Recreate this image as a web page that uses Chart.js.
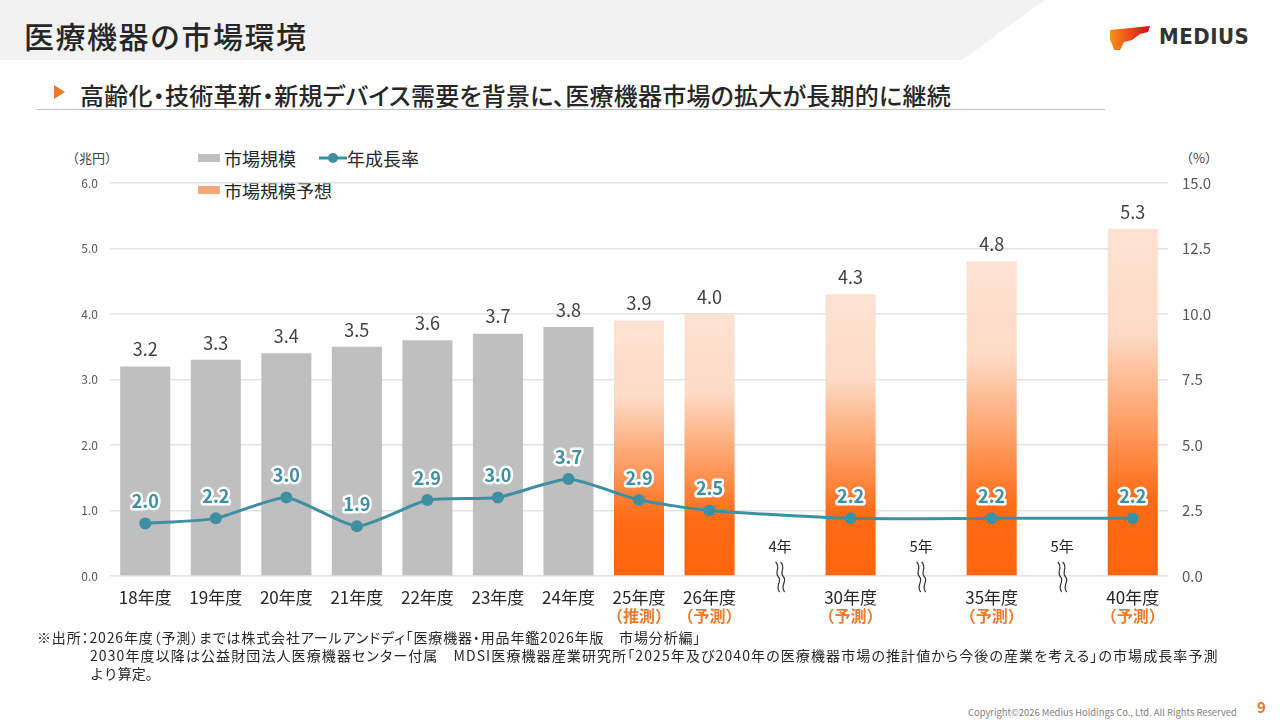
<!DOCTYPE html>
<html lang="ja">
<head>
<meta charset="utf-8">
<script src="https://cdn.jsdelivr.net/npm/chart.js@4"></script>
<style>
	body{margin:0;width:1280px;height:720px;position:relative;overflow:hidden;background:#fff;
		font-family:"Noto Sans CJK JP","Noto Sans",sans-serif;color:#333;}
	.abs{position:absolute;white-space:nowrap;}
	.palt{font-feature-settings:"palt";}
	#chartBox{position:absolute;left:40px;top:140px;width:1190px;height:500px;}
</style>
</head>
<body>
<!-- ヘッダー -->
<svg class="abs" style="left:0;top:0" width="1280" height="62">
	<polygon points="0,0 1045,0 962,60 0,60" fill="#F2F2F2"/>
	<defs>
		<linearGradient id="lg" x1="0" y1="0" x2="1" y2="0">
			<stop offset="0" stop-color="#F7931E"/>
			<stop offset="1" stop-color="#E50012"/>
		</linearGradient>
	</defs>
	<polygon points="1110,30 1150,26 1148,32 1140,34 1132,40 1124,42 1120,50 1114,50 1112,44 1110,40" fill="url(#lg)"/>
</svg>
<div class="abs" style="left:24px;top:13px;font-size:30px;font-weight:500;color:#262626;letter-spacing:1.5px">医療機器の市場環境</div>
<div class="abs" style="left:1159px;top:24px;font-family:'Liberation Sans Narrow','DejaVu Sans Condensed',sans-serif;font-size:22px;font-weight:bold;color:#333;letter-spacing:0.5px">MEDIUS</div>
<svg class="abs" style="left:52px;top:84px" width="14" height="16"><polygon points="2,1 13,8 2,15" fill="#F07A2A"/></svg>
<div class="abs palt" style="left:80px;top:77px;font-size:24px;font-weight:500;color:#262626;letter-spacing:0.25px">高齢化・技術革新・新規デバイス需要を背景に、医療機器市場の拡大が長期的に継続</div>
<div class="abs" style="left:37px;top:109px;width:1068px;height:1px;background:#BFBFBF"></div>

<!-- 凡例・単位 -->
<div class="abs" style="left:66px;top:148px;font-size:13px;color:#404040">（兆円）</div>
<div class="abs" style="left:1180px;top:148px;font-size:13px;color:#404040">（%）</div>
<div class="abs" style="left:198px;top:154px;width:22px;height:8px;background:#BFBFBF"></div>
<div class="abs" style="left:224px;top:145px;font-size:18px;color:#262626">市場規模</div>
<svg class="abs" style="left:318px;top:150px" width="30" height="16"><line x1="1" y1="8" x2="29" y2="8" stroke="#3F8FA3" stroke-width="3"/><circle cx="15" cy="8" r="5" fill="#3F8FA3"/></svg>
<div class="abs" style="left:347px;top:145px;font-size:18px;color:#262626">年成長率</div>
<div class="abs" style="left:198px;top:186px;width:22px;height:8px;background:#F8A77B"></div>
<div class="abs" style="left:224px;top:177px;font-size:18px;color:#262626">市場規模予想</div>

<div id="chartBox"><canvas id="c"></canvas></div>

<!-- 出所 -->
<div class="abs palt" style="left:37px;top:627px;font-size:14px;color:#262626;letter-spacing:0.85px">※出所：2026年度（予測）までは株式会社アールアンドディ「医療機器・用品年鑑2026年版　市場分析編」</div>
<div class="abs palt" style="left:90px;top:645px;font-size:14px;color:#262626;letter-spacing:1.1px">2030年度以降は公益財団法人医療機器センター付属　MDSI医療機器産業研究所「2025年及び2040年の医療機器市場の推計値から今後の産業を考える」の市場成長率予測</div>
<div class="abs" style="left:90px;top:663px;font-size:14px;color:#262626">より算定。</div>
<div class="abs" style="left:968px;top:705px;font-size:9.4px;color:#7F7F7F">Copyright©2026 Medius Holdings Co., Ltd. All Rights Reserved</div>
<div class="abs" style="left:1257px;top:696px;font-size:15px;font-weight:bold;color:#F07A2A">9</div>

<script>
// カテゴリ（空文字は年の間隔を示すスロット）
const categories = ['18年度','19年度','20年度','21年度','22年度','23年度','24年度','25年度','26年度','','30年度','','35年度','','40年度'];
// 市場規模（兆円）実績
const marketSize = [3.2, 3.3, 3.4, 3.5, 3.6, 3.7, 3.8, null, null, null, null, null, null, null, null];
// 市場規模予想（兆円）
const marketForecast = [null, null, null, null, null, null, null, 3.9, 4.0, null, 4.3, null, 4.8, null, 5.3];
// 年成長率（%）
const growthRate = [2.0, 2.2, 3.0, 1.9, 2.9, 3.0, 3.7, 2.9, 2.5, null, 2.2, null, 2.2, null, 2.2];
// 年度の下の注記
const subLabels = ['', '', '', '', '', '', '', '（推測）', '（予測）', '', '（予測）', '', '（予測）', '', '（予測）'];
// 間隔スロットの表示
const gapLabels = ['', '', '', '', '', '', '', '', '', '4年', '', '5年', '', '5年', ''];
const leftTicks = [0, 1, 2, 3, 4, 5, 6];
const rightTicks = [0, 2.5, 5, 7.5, 10, 12.5, 15];

const FONT = '"Noto Sans CJK JP", "Noto Sans", sans-serif';
const TEAL = '#3F8FA3';

// 予想棒のグラデーション（棒ごとに上:薄 -> 下:濃）
function forecastFill(ctx){
	const chart = ctx.chart;
	const v = ctx.raw;
	if (!chart.chartArea || v == null) return '#F8A77B';
	const y = chart.scales.y;
	const top = y.getPixelForValue(v), bot = y.getPixelForValue(0);
	const g = chart.ctx.createLinearGradient(0, top, 0, bot);
	g.addColorStop(0, '#FDE2D2');
	g.addColorStop(0.3, '#FDDBC6');
	g.addColorStop(0.78, '#FF6B14');
	g.addColorStop(1, '#FF650C');
	return g;
}

const labelPlugin = {
	id: 'labels',
	afterDatasetsDraw(chart){
		const ctx = chart.ctx;
		const area = chart.chartArea;
		ctx.save();
		// 棒の値
		ctx.textAlign = 'center';
		ctx.textBaseline = 'middle';
		ctx.font = '18px ' + FONT;
		ctx.fillStyle = '#404040';
		[0, 1].forEach(function(di){
			const meta = chart.getDatasetMeta(di);
			const arr = di === 0 ? marketSize : marketForecast;
			meta.data.forEach(function(el, i){
				if (arr[i] == null) return;
				ctx.fillText(arr[i].toFixed(1), el.x, el.y - 17);
			});
		});
		// 成長率ラベル（白縁取り）
		const lm = chart.getDatasetMeta(2);
		ctx.font = 'bold 18px ' + FONT;
		ctx.lineJoin = 'round';
		lm.data.forEach(function(el, i){
			if (growthRate[i] == null) return;
			const t = growthRate[i].toFixed(1);
			ctx.strokeStyle = '#fff';
			ctx.lineWidth = 5;
			ctx.strokeText(t, el.x, el.y - 22);
			ctx.fillStyle = TEAL;
			ctx.fillText(t, el.x, el.y - 22);
		});
		// 間隔表示と省略記号
		const xs = chart.scales.x;
		gapLabels.forEach(function(s, i){
			if (!s) return;
			const x = xs.getPixelForValue(i);
			ctx.font = '15px ' + FONT;
			ctx.fillStyle = '#262626';
			ctx.fillText(s, x, area.bottom - 30);
			ctx.strokeStyle = '#333';
			ctx.lineWidth = 1.2;
			[-2.5, 2.5].forEach(function(dx){
				const x0 = x + dx, y0 = area.bottom - 14;
				ctx.beginPath();
				ctx.moveTo(x0 - 2, y0);
				ctx.bezierCurveTo(x0 + 4, y0 + 6, x0 - 4, y0 + 10, x0 + 1, y0 + 15);
				ctx.bezierCurveTo(x0 + 5, y0 + 19, x0 - 3, y0 + 24, x0 + 2, y0 + 30);
				ctx.stroke();
			});
		});
		// 年度下の注記
		ctx.font = 'bold 16px ' + FONT;
		ctx.fillStyle = '#F07A2A';
		subLabels.forEach(function(s, i){
			if (!s) return;
			ctx.fillText(s, xs.getPixelForValue(i), area.bottom + 40);
		});
		ctx.restore();
	}
};

new Chart(document.getElementById('c'), {
	type: 'bar',
	data: {
		labels: categories,
		datasets: [
			{label: '市場規模', data: marketSize, backgroundColor: '#BFBFBF', yAxisID: 'y', grouped: false,
				barPercentage: 0.71, categoryPercentage: 1, order: 2},
			{label: '市場規模予想', data: marketForecast, backgroundColor: forecastFill, yAxisID: 'y', grouped: false,
				barPercentage: 0.71, categoryPercentage: 1, order: 2},
			{type: 'line', label: '年成長率', data: growthRate, yAxisID: 'y2', borderColor: TEAL, backgroundColor: TEAL,
				borderWidth: 3, pointRadius: 6, pointBackgroundColor: TEAL, pointBorderWidth: 0,
				tension: 0.18, spanGaps: true, order: 1}
		]
	},
	options: {
		responsive: true,
		maintainAspectRatio: false,
		animation: false,
		layout: {padding: {top: 43, left: 0, right: 0, bottom: 0}},
		plugins: {legend: {display: false}, tooltip: {enabled: false}},
		scales: {
			x: {
				grid: {display: false},
				border: {display: false},
				ticks: {color: '#262626', font: {size: 17, family: FONT}, padding: 3, maxRotation: 0, autoSkip: false},
				afterFit: function(s){ s.height = 64; }
			},
			y: {
				position: 'left', min: 0, max: 6,
				afterBuildTicks: function(s){ s.ticks = leftTicks.map(function(v){ return {value: v}; }); },
				ticks: {color: '#595959', font: {size: 12, family: FONT}, padding: 12,
					callback: function(v){ return v.toFixed(1); }},
				grid: {color: '#E3E3E3', lineWidth: 1.5, drawTicks: false},
				border: {display: false},
				afterFit: function(s){ s.width = 70; }
			},
			y2: {
				position: 'right', min: 0, max: 15,
				afterBuildTicks: function(s){ s.ticks = rightTicks.map(function(v){ return {value: v}; }); },
				ticks: {color: '#595959', font: {size: 15, family: FONT}, padding: 14,
					callback: function(v){ return v.toFixed(1); }},
				grid: {display: false, drawTicks: false},
				border: {display: false},
				afterFit: function(s){ s.width = 62; }
			}
		}
	},
	plugins: [labelPlugin]
});
</script>
</body>
</html>
